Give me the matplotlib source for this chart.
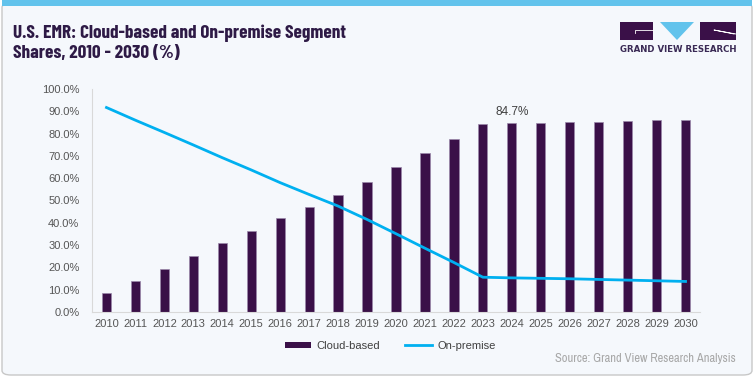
import matplotlib
matplotlib.use("Agg")
import matplotlib.pyplot as plt
from matplotlib.patches import FancyBboxPatch, Rectangle, Polygon
from matplotlib.lines import Line2D
from matplotlib.patches import Patch

years = [str(y) for y in range(2010, 2031)]
cloud = [8.3, 14.0, 19.5, 25.1, 30.8, 36.3, 42.0, 47.3, 52.5, 58.5,
         64.9, 71.4, 77.8, 84.4, 84.7, 84.9, 85.1, 85.4, 85.7, 86.0, 86.3]
onprem = [91.7, 86.0, 80.5, 74.9, 69.2, 63.7, 58.0, 52.7, 47.5, 41.5,
          35.1, 28.6, 22.2, 15.6, 15.3, 15.1, 14.9, 14.6, 14.3, 14.0, 13.7]
yticks = [0, 10, 20, 30, 40, 50, 60, 70, 80, 90, 100]
ytick_labels = [f"{v:.1f}%" for v in yticks]
label_year_idx = 14
label_text = "84.7%"

BAR = "#3a1048"
LINE = "#00b0f0"
BG = "#f5f8fc"
W, H = 756, 378

plt.rcParams['font.family'] = ['Liberation Sans', 'DejaVu Sans']
fig = plt.figure(figsize=(W / 100, H / 100), dpi=100)
fig.patch.set_facecolor("white")

# panel background
panel = FancyBboxPatch((2 / W, 3 / H), 750 / W, 372 / H,
                       boxstyle="round,pad=0,rounding_size=0.012",
                       transform=fig.transFigure, facecolor=BG,
                       edgecolor="#c8c8c8", linewidth=1.0, zorder=-2)
fig.patches.append(panel)
fig.patches.append(Rectangle((2 / W, 1 - 6 / H), 750 / W, 6 / H,
                             transform=fig.transFigure, facecolor="#62c3ec",
                             edgecolor="none", zorder=-1))

ax = fig.add_axes([92 / W, 1 - 312 / H, 608 / W, 223 / H])
ax.set_zorder(3)
ax.set_facecolor("none")
x = list(range(len(years)))
ax.bar(x, cloud, width=0.32, color=BAR, edgecolor="#9a88aa", linewidth=0.5, zorder=2)
ax.plot(x, onprem, color=LINE, linewidth=2.0, zorder=3)
ax.set_xlim(-0.5, len(years) - 0.5)
ax.set_ylim(0, 100)
ax.set_yticks(yticks)
ax.set_yticklabels(ytick_labels)
ax.set_xticks(x)
ax.set_xticklabels(years)
ax.tick_params(axis='both', length=0, labelsize=8, labelcolor="#555555")
ax.tick_params(axis='y', pad=9)
ax.tick_params(axis='x', pad=5)
for s in ["top", "right"]:
    ax.spines[s].set_visible(False)
for s in ["left", "bottom"]:
    ax.spines[s].set_color("#d9d9d9")
    ax.spines[s].set_linewidth(0.8)
ax.text(label_year_idx, cloud[label_year_idx] + 2.5, label_text, ha="center",
        va="bottom", fontsize=8.5, color="#404040")

# legend
handles = [Patch(facecolor=BAR, edgecolor="none"),
           Line2D([0], [0], color=LINE, linewidth=2)]
fig.legend(handles, ["Cloud-based", "On-premise"], loc="center",
           bbox_to_anchor=(390 / W, 1 - 346 / H), ncol=2, frameon=False,
           fontsize=8, handlelength=2.4, handleheight=0.5, columnspacing=2.2,
           handletextpad=0.5, labelcolor="#404040")

fig.text(736 / W, 1 - 359 / H, "Source: Grand View Research Analysis",
         ha="right", va="center", fontsize=9, color="#a8a8a8",
         family=["Archivo Narrow", "Liberation Sans"])

# title
tfont = dict(fontsize=13.8, fontweight="bold", color="#2e1a46",
             family=["Barlow Condensed", "Barlow Semi Condensed", "DejaVu Sans"])
fig.text(13 / W, 1 - 33 / H, "U.S. EMR: Cloud-based and On-premise Segment",
         ha="left", va="center", **tfont)
fig.text(13 / W, 1 - 54 / H, "Shares, 2010 - 2030 (%)",
         ha="left", va="center", **tfont)

# logo
LP = "#3a1048"
tf = fig.transFigure
fig.patches.append(Rectangle((620 / W, 1 - 40 / H), 33 / W, 18 / H,
                             transform=tf, facecolor=LP, edgecolor="none"))
fig.patches.append(Polygon([(660 / W, 1 - 22 / H), (694 / W, 1 - 22 / H), (677 / W, 1 - 40 / H)],
                           closed=True, transform=tf, facecolor="#62c3ec", edgecolor="none"))
fig.patches.append(Rectangle((700 / W, 1 - 40 / H), 36 / W, 18 / H,
                             transform=tf, facecolor=LP, edgecolor="none"))
fig.lines.append(Line2D([653 / W, 635 / W, 635 / W], [1 - 30 / H, 1 - 30 / H, 1 - 33 / H],
                        transform=tf, color="white", linewidth=0.6))
fig.lines.append(Line2D([736 / W, 714 / W, 734 / W], [1 - 34 / H, 1 - 30 / H, 1 - 34 / H],
                        transform=tf, color="white", linewidth=0.6))
fig.text(678 / W, 1 - 49.5 / H, "GRAND VIEW RESEARCH", ha="center", va="center",
         fontsize=6.2, fontweight="bold", color="#3a2a55",
         family=["DejaVu Sans"])

fig.savefig("out.png", dpi=100, facecolor=fig.get_facecolor())
